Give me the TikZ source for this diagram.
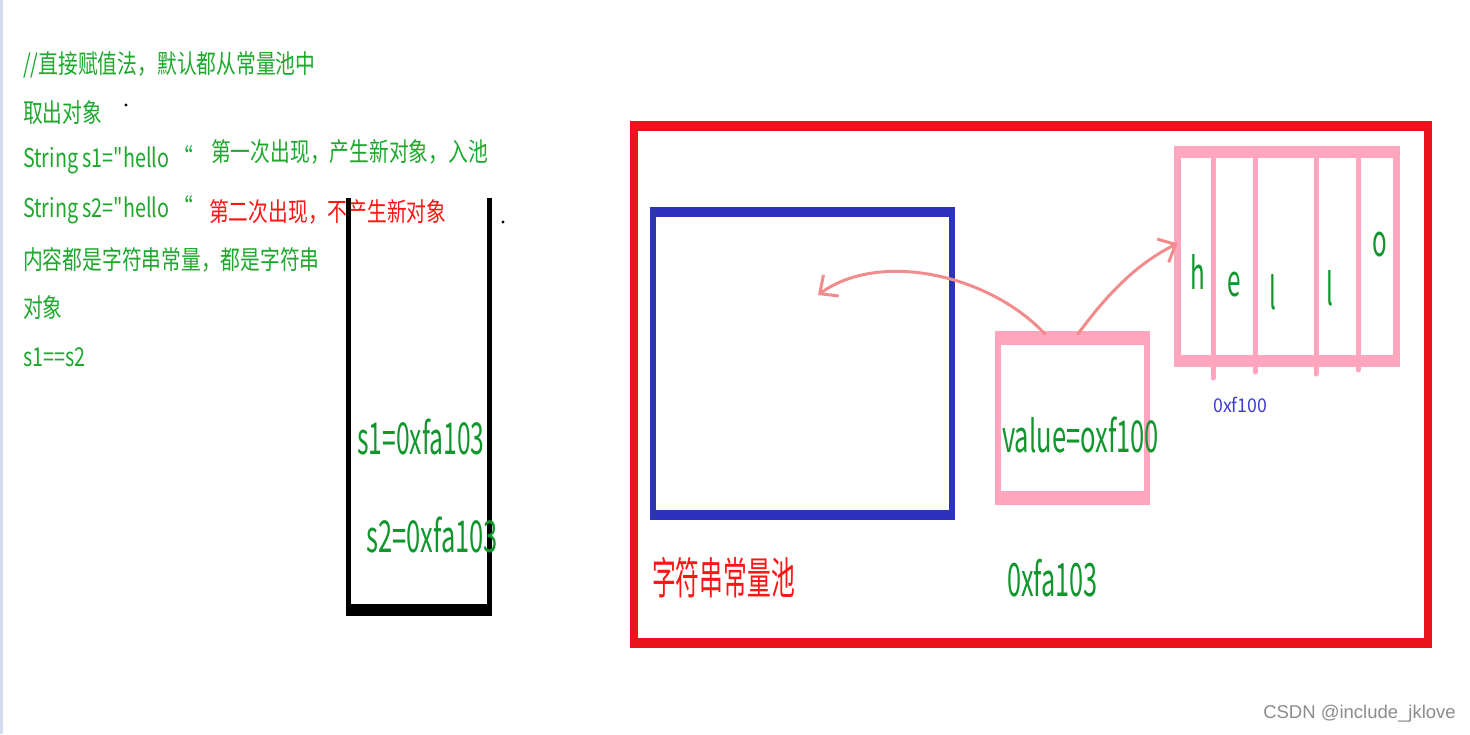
\documentclass[tikz,border=0pt]{standalone}
\usepackage{fontspec}
\usepackage{graphicx}
\newfontfamily\cjk{Noto Sans CJK SC}
\newfontfamily\wmfont{Liberation Sans}
\usetikzlibrary{arrows.meta}
\definecolor{tgreen}{RGB}{30,168,45}
\definecolor{dgreen}{RGB}{16,150,45}
\definecolor{tred}{RGB}{255,20,20}
\definecolor{boxred}{RGB}{236,20,28}
\definecolor{poolblue}{RGB}{45,50,190}
\definecolor{lpink}{RGB}{255,165,190}
\definecolor{arrpink}{RGB}{242,140,140}
\definecolor{addrblue}{RGB}{60,60,210}
\definecolor{edgeblue}{RGB}{210,218,235}
\newcommand{\hsq}[2]{\scalebox{#1}[1]{#2}}
\begin{document}
\begin{tikzpicture}[x=1pt,y=-1pt,
  lefttxt/.style={inner sep=0, anchor=west, text=tgreen, font=\cjk\fontsize{26}{30}\selectfont},
  bigtxt/.style={inner sep=0, anchor=west, text=dgreen, font=\cjk\fontsize{44}{50}\selectfont},
  letter/.style={inner sep=0, text=dgreen, font=\cjk\fontsize{44}{50}\selectfont},
  frame/.style={draw, inner sep=0, outer sep=0},
  pinkarrow/.style={draw=arrpink, line width=3, line cap=round, -{Straight Barb[length=14pt,width=26pt,line width=3pt]}}
]
\useasboundingbox (0,0) rectangle (1470,734);
\fill[white] (0,0) rectangle (1470,734);
\fill[edgeblue] (0,0) rectangle (3,734);

% left text
\node[lefttxt] (l1) at (23,65) {\hsq{0.76}{//直接赋值法，默认都从常量池中}};
\node[lefttxt] (l2) at (23,113) {\hsq{0.76}{取出对象}};
\node[lefttxt] (l3) at (23,160) {\hsq{0.76}{String s1="hello “}};
\node[lefttxt] (l4) at (23,210) {\hsq{0.76}{String s2="hello “}};
\node[lefttxt] (l5) at (23,260) {\hsq{0.76}{内容都是字符串常量，都是字符串}};
\node[lefttxt] (l6) at (23,308) {\hsq{0.76}{对象}};
\node[lefttxt] (l7) at (23,357) {\hsq{0.76}{s1==s2}};
\node[lefttxt] (n1) at (211,152) {\hsq{0.76}{第一次出现，产生新对象，入池}};
\node[lefttxt, text=tred] (n2) at (209,212) {\hsq{0.76}{第二次出现，不产生新对象}};
\fill[black] (126,105) circle (1.6);
\fill[black] (503,222) circle (1.6);

% stack
\draw[line width=5] (348.5,198) -- (348.5,612);
\draw[line width=5] (489,198) -- (489,612);
\fill[black] (346,604) rectangle (492,616);
\node[bigtxt] (s1) at (357,437) {\hsq{0.56}{s1=0xfa103}};
\node[bigtxt] (s2) at (366,535) {\hsq{0.58}{s2=0xfa103}};

% heap frame
\node[frame, draw=boxred, line width=8, minimum width=794, minimum height=517] (heap) at (1031,384.5) {};
\fill[boxred] (630,121) rectangle (1432,131);
\fill[boxred] (630,638) rectangle (1432,648);

% string pool
\node[frame, draw=poolblue, line width=6, minimum width=299, minimum height=307] (pool) at (802.5,363.5) {};
\fill[poolblue] (650,207) rectangle (955,217);
\fill[poolblue] (650,510) rectangle (955,520);
\node[inner sep=0, anchor=west, text=tred, font=\cjk\fontsize{44}{50}\selectfont] (pooltxt) at (652,578) {\hsq{0.54}{字符串常量池}};

% value object
\node[frame, draw=lpink, line width=6, minimum width=149, minimum height=168] (val) at (1072.5,418) {};
\fill[lpink] (995,331) rectangle (1150,345);
\fill[lpink] (995,491) rectangle (1150,505);
\node[bigtxt] (valtxt) at (1002,435) {\hsq{0.58}{value=oxf100}};
\node[bigtxt, font=\cjk\fontsize{46}{52}\selectfont] (addr) at (1007,578) {\hsq{0.55}{0xfa103}};

% char array
\node[frame, draw=lpink, line width=7, minimum width=219, minimum height=213] (arr) at (1287,256.5) {};
\fill[lpink] (1174,146) rectangle (1400,158);
\fill[lpink] (1174,355) rectangle (1400,367);
\foreach \xx/\yy in {1213/378, 1255/372, 1316/374, 1358/370}
  \draw[lpink, line width=5, line cap=round] (\xx,150) -- (\xx,\yy);
\node[letter] (ch) at (1198,272) {\hsq{0.55}{h}};
\node[letter] (ce) at (1234,285) {\hsq{0.55}{e}};
\node[letter] (cl1) at (1273,292) {\hsq{0.55}{l}};
\node[letter] (cl2) at (1330,288) {\hsq{0.55}{l}};
\node[letter] (co) at (1380,245) {\hsq{0.55}{o}};
\node[inner sep=0, anchor=west, text=addrblue, font=\cjk\fontsize{19}{22}\selectfont] (arraddr) at (1213,405) {\hsq{0.93}{0xf100}};

% arrows
\coordinate (pooltip) at (818,295);
\draw[pinkarrow] ([xshift=-27.5pt]val.north) .. controls (990,275) and (880,250) .. (pooltip);
\draw[pinkarrow] ([xshift=5.5pt]val.north) .. controls (1110,290) and (1140,262) .. ([yshift=13pt]arr.west);

% watermark
\node[inner sep=0, anchor=east, text=black!45, font=\wmfont\fontsize{18.5}{22}\selectfont] (wm) at (1456,714) {CSDN @include\_jklove};
\end{tikzpicture}
\end{document}
